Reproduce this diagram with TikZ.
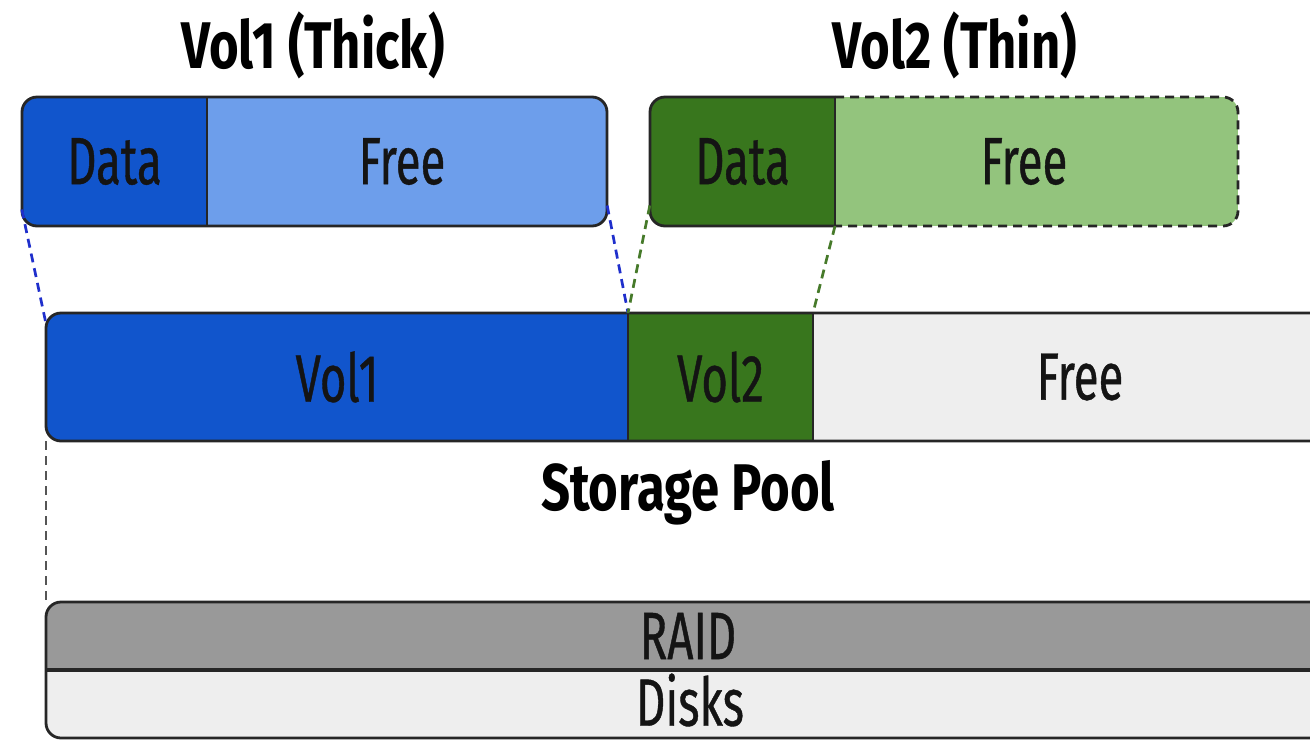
\documentclass[tikz,border=0pt]{standalone}
\usepackage{fontspec}
\setmainfont{Fira Sans}[FakeStretch=0.68, FakeBold=0.6]
\newfontfamily\ttlfont{Fira Sans}[FakeStretch=0.77]
\definecolor{dblue}{HTML}{1155CC}
\definecolor{lblue}{HTML}{6D9EEB}
\definecolor{dgreen}{HTML}{38761D}
\definecolor{lgreen}{HTML}{93C47D}
\definecolor{mgray}{HTML}{999999}
\definecolor{lgray}{HTML}{EEEEEE}
\definecolor{dashblue}{HTML}{1F2FCC}
\definecolor{dashgreen}{HTML}{467A2A}
\definecolor{dashgray}{HTML}{555555}
\tikzset{
  lbl/.style={font=\fontsize{67}{70}\selectfont, text=black!92, inner sep=0pt},
  ttl/.style={font=\ttlfont\fontsize{66}{70}\selectfont\bfseries, text=black, inner sep=0pt},
  shell/.style={draw=none, inner sep=0pt, rectangle},
  outline/.style={draw=black!85, line width=2.8pt},
  conn/.style={dashed, line width=2.7pt, dash pattern=on 9pt off 6pt},
}
\begin{document}
\begin{tikzpicture}[x=1pt,y=-1pt]
\clip (0,0) rectangle (1310,740);
\fill[white] (0,0) rectangle (1310,740);

% titles
\node[ttl] (t1) at (313,45) {Vol1 (Thick)};
\node[ttl] (t2) at (955,45) {Vol2 (Thin)};

% ---- Vol1 box
\node[shell, minimum width=585pt, minimum height=129pt] (v1) at (314.5,161.5) {};
\begin{scope}
  \clip[rounded corners=15pt] (22,97) rectangle (607,226);
  \fill[lblue] (22,97) rectangle (607,226);
  \fill[dblue] (22,97) rectangle (207,226);
\end{scope}
\draw[outline, rounded corners=15pt] (22,97) rectangle (607,226);
\draw[outline] (207,97) -- (207,226);
\node[lbl] (v1data) at (114.5,161.5) {Data};
\node[lbl] (v1free) at (402,161.5) {Free};

% ---- Vol2 box
\node[shell, minimum width=588pt, minimum height=129pt] (v2) at (944,161.5) {};
\begin{scope}
  \clip[rounded corners=15pt] (650,97) rectangle (1238,226);
  \fill[lgreen] (650,97) rectangle (1238,226);
  \fill[dgreen] (650,97) rectangle (835,226);
\end{scope}
\draw[outline, dashed, dash pattern=on 9pt off 6pt, rounded corners=15pt] (835,97) -- (1238,97) -- (1238,226) -- (835,226);
\draw[outline, rounded corners=15pt] (835,97) -- (650,97) -- (650,226) -- (835,226);
\draw[outline] (835,97) -- (835,226);
\node[lbl] (v2data) at (742.5,161.5) {Data};
\node[lbl] (v2free) at (1024,161.5) {Free};

% ---- Storage pool
\node[shell, minimum width=1294pt, minimum height=128pt] (pool) at (693,377) {};
\begin{scope}
  \clip[rounded corners=15pt] (46,313) rectangle (1340,441);
  \fill[lgray] (46,313) rectangle (1340,441);
  \fill[dblue] (46,313) rectangle (628,441);
  \fill[dgreen] (628,313) rectangle (813,441);
\end{scope}
\draw[outline, rounded corners=15pt] (46,313) rectangle (1340,441);
\draw[outline] (628,313) -- (628,441);
\draw[outline] (813,313) -- (813,441);
\node[lbl] (pv1) at (337,377) {Vol1};
\node[lbl] (pv2) at (720.5,377) {Vol2};
\node[lbl] (pfree) at (1080,377) {Free};
\node[ttl] (sp) at (688,493) {Storage Pool};

% ---- RAID / Disks
\node[shell, minimum width=1294pt, minimum height=68pt] (raid) at (693,636) {};
\node[shell, minimum width=1294pt, minimum height=68pt] (disks) at (693,704) {};
\begin{scope}
  \clip[rounded corners=15pt] (46,602) rectangle (1340,738);
  \fill[mgray] (46,602) rectangle (1340,670);
  \fill[lgray] (46,670) rectangle (1340,738);
\end{scope}
\draw[outline, rounded corners=15pt] (46,602) rectangle (1340,738);
\draw[outline, line width=3.2pt] (46,670) -- (1340,670);
\node[lbl] (traid) at (688,636) {RAID};
\node[lbl] (tdisks) at (690,700) {Disks};

% ---- connectors
\coordinate (p1) at (628,313);
\coordinate (p2) at (813,313);
\draw[conn, dashblue] ([yshift=-48pt]v1.west) -- ([yshift=-10pt]pool.north west);
\draw[conn, dashblue] ([yshift=-44pt]v1.east) -- (p1);
\draw[conn, dashgreen] ([yshift=-44pt]v2.west) -- (p1);
\draw[conn, dashgreen] (835,226) -- (p2);
\draw[conn, dashgray, line width=1.8pt] (pool.south west) -- (raid.north west);
\end{tikzpicture}
\end{document}
